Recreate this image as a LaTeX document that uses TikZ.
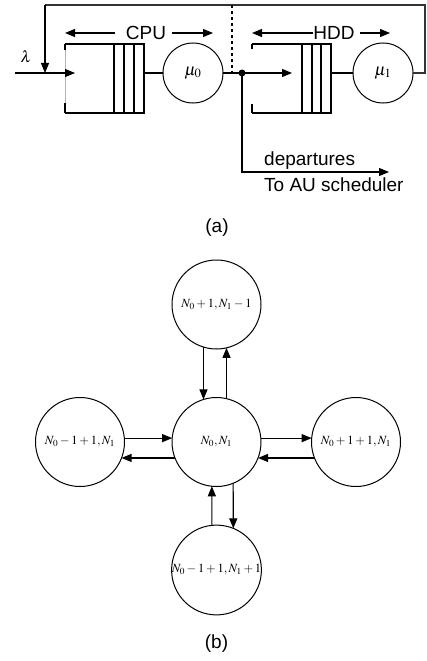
\documentclass[tikz,border=0pt]{standalone}
\usepackage{mathptmx}
\usepackage[no-math]{fontspec}
\setmainfont{Liberation Sans}
\usetikzlibrary{arrows.meta}

\begin{document}
\begin{tikzpicture}[x=1pt,y=-1pt,
  wire/.style={line width=1.1pt},
  tip/.style={-{Triangle[length=10pt,width=8pt]}},
  lbl/.style={font=\fontsize{19}{22}\selectfont, inner sep=0pt},
  srv/.style={draw, circle, minimum size=60pt, inner sep=0pt, outer sep=0pt, line width=1pt,
              font=\fontsize{17}{19}\selectfont},
  state/.style={draw, circle, minimum size=89pt, inner sep=0pt, outer sep=0pt, line width=1pt,
                font=\fontsize{12.5}{14}\selectfont},
]
\useasboundingbox (0,0) rectangle (427,661);

% ---------------- (a) tandem queue ----------------
% CPU queue
\draw[wire] (65,44) -- (144,44) -- (144,113) -- (65,113);
\draw[gray!60, line width=1pt] (65,50) -- (65,103);
\draw[wire] (65,44) -- (65,50) (65,103) -- (65,113);
\foreach \x in {114,124,134} \draw[wire] (\x,44) -- (\x,113);
\node[srv] (mu0) at (193,73) {$\mu_0$};
\draw[wire] (144,73) -- (mu0.west);

% HDD queue
\draw[wire] (252,44) -- (331,44) -- (331,113) -- (252,113);
\draw[wire] (252,44) -- (252,49) (252,104) -- (252,113);
\foreach \x in {302,312,321} \draw[wire] (\x,44) -- (\x,113);
\node[srv] (mu1) at (383,73) {$\mu_1$};
\draw[wire] (331,73) -- (mu1.west);

% arrivals
\coordinate (src) at (15,73);
\coordinate (cpuin) at (75,73);
\draw[wire,tip] (src) -- (cpuin);
\node (lam) at (26,57) {\fontsize{16}{18}\selectfont$\lambda$};

% feedback loop from HDD back to the CPU input
\coordinate (fb1) at (425,73);
\coordinate (fb2) at (425,5);
\coordinate (fb3) at (45,5);
\coordinate (fb4) at (45,73);
\draw[wire, black!80, line width=1.5pt] (mu1.east) -- (fb1) -- (fb2) -- (fb3);
\draw[wire,tip] (fb3) -- (fb4);

% split point between CPU and HDD
\coordinate (hddin) at (252,73);
\coordinate (split) at (242,73);
\coordinate (dtop) at (232,5);
\coordinate (dbot) at (232,73);
\draw[wire] (mu0.east) -- (hddin);
\draw[wire,dashed] (dtop) -- (dbot);
\fill (split) circle (3.5pt);
\coordinate (hddarr) at (292,73);
\draw[wire,tip] (split) -- (hddarr);

% departures
\coordinate (dcorner) at (242,172);
\coordinate (dend) at (389,172);
\draw[wire,tip] (split) -- (dcorner) -- (dend);
\node[lbl, anchor=west] (dep) at (264,161) {departures};
\node[lbl, anchor=west] (sched) at (264,185) {To AU scheduler};

% section labels
\node[lbl] (cpu) at (146,33) {CPU};
\coordinate (cpuL1) at (115,33); \coordinate (cpuL2) at (65,33);
\coordinate (cpuR1) at (172,33); \coordinate (cpuR2) at (213,33);
\draw[wire,tip] (cpuL1) -- (cpuL2);
\draw[wire,tip] (cpuR1) -- (cpuR2);

\node[lbl] (hdd) at (334,33) {HDD};
\coordinate (hddL1) at (313,33); \coordinate (hddL2) at (252,33);
\coordinate (hddR1) at (360,33); \coordinate (hddR2) at (390,33);
\draw[wire,tip] (hddL1) -- (hddL2);
\draw[wire,tip] (hddR1) -- (hddR2);

\node[lbl] (capa) at (217,228) {(a)};

% ---------------- (b) state transitions ----------------
\node[state] (top)   at (216.5,304.5) {$N_0+1,N_1-1$};
\node[state] (ctr)   at (216.5,442)   {$N_0,N_1$};
\node[state] (left)  at (80,442)      {$N_0-1+1,N_1$};
\node[state] (right) at (356,442)     {$N_0+1+1,N_1$};
\node[state] (bot)   at (216.5,570)   {$N_0-1+1,N_1+1$};

\draw[wire,tip] (top.253) -- (ctr.107);
\draw[wire,tip] (ctr.77)  -- (top.283);
\draw[wire,tip] (bot.96)  -- (ctr.264);
\draw[wire,tip] (ctr.292) -- (bot.68);
\draw[wire,tip] (left.5)  -- (ctr.175);
\draw[wire,tip] (ctr.201) -- (left.339);
\draw[wire,tip] (ctr.5)   -- (right.175);
\draw[wire,tip] (right.201) -- (ctr.339);

\node[lbl] (capb) at (216.5,644) {(b)};
\end{tikzpicture}
\end{document}
